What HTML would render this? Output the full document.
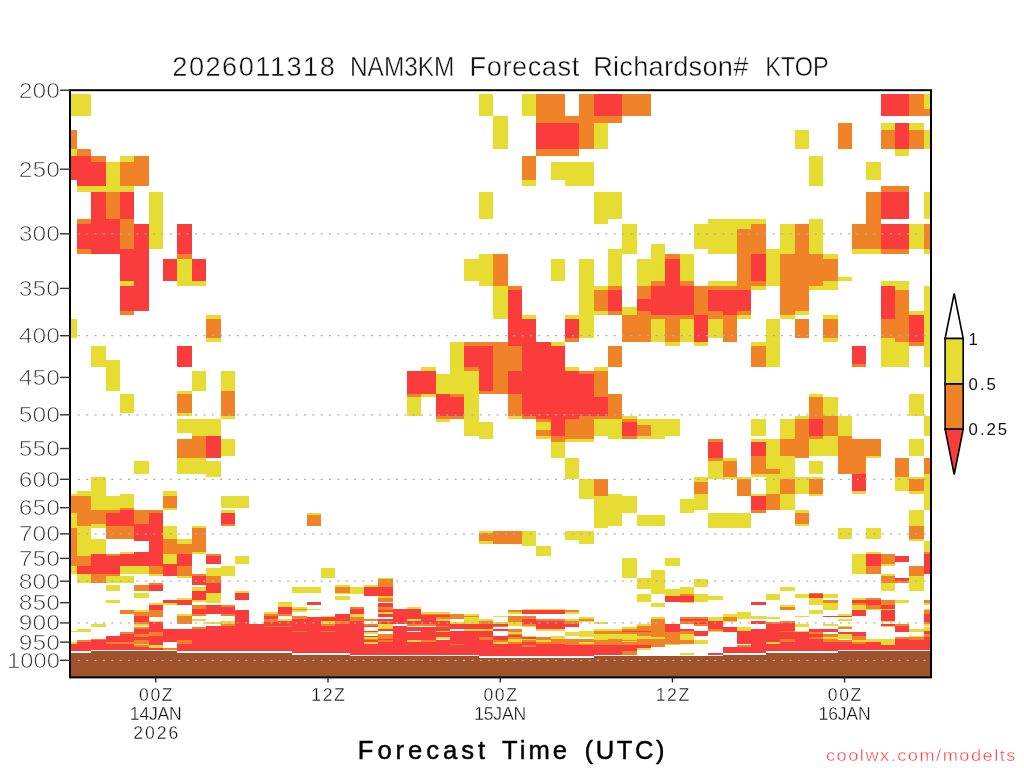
<!DOCTYPE html><html><head><meta charset="utf-8"><title>NAM3KM Forecast Richardson# KTOP</title>
<style>html,body{margin:0;padding:0;background:#fff;}svg{display:block}text{font-family:"Liberation Sans",sans-serif;}</style></head><body>
<svg width="1024" height="768" viewBox="0 0 1024 768">
<rect width="1024" height="768" fill="#fff"/>
<g shape-rendering="crispEdges">
<rect x="70" y="94" width="7" height="22" fill="#e6dc32"/>
<rect x="70" y="130" width="7" height="19" fill="#f08228"/>
<rect x="70" y="149" width="7" height="7" fill="#e6dc32"/>
<rect x="70" y="156" width="7" height="24" fill="#fa3c3c"/>
<rect x="77" y="94" width="14" height="22" fill="#e6dc32"/>
<rect x="77" y="149" width="14" height="7" fill="#f08228"/>
<rect x="77" y="156" width="14" height="30" fill="#fa3c3c"/>
<rect x="77" y="186" width="14" height="6" fill="#e6dc32"/>
<rect x="77" y="219" width="14" height="5" fill="#f08228"/>
<rect x="77" y="224" width="14" height="25" fill="#fa3c3c"/>
<rect x="77" y="249" width="14" height="5" fill="#f08228"/>
<rect x="91" y="156" width="15" height="6" fill="#f08228"/>
<rect x="91" y="162" width="15" height="24" fill="#fa3c3c"/>
<rect x="91" y="186" width="15" height="6" fill="#e6dc32"/>
<rect x="91" y="192" width="15" height="62" fill="#fa3c3c"/>
<rect x="106" y="162" width="14" height="30" fill="#e6dc32"/>
<rect x="106" y="192" width="14" height="27" fill="#f08228"/>
<rect x="106" y="219" width="14" height="35" fill="#fa3c3c"/>
<rect x="120" y="156" width="14" height="6" fill="#e6dc32"/>
<rect x="120" y="162" width="14" height="24" fill="#f08228"/>
<rect x="120" y="186" width="14" height="6" fill="#e6dc32"/>
<rect x="120" y="192" width="14" height="27" fill="#fa3c3c"/>
<rect x="120" y="219" width="14" height="30" fill="#f08228"/>
<rect x="120" y="249" width="14" height="11" fill="#fa3c3c"/>
<rect x="134" y="156" width="15" height="30" fill="#f08228"/>
<rect x="134" y="224" width="15" height="36" fill="#fa3c3c"/>
<rect x="149" y="192" width="14" height="57" fill="#e6dc32"/>
<rect x="163" y="259" width="14" height="1" fill="#fa3c3c"/>
<rect x="177" y="224" width="15" height="30" fill="#fa3c3c"/>
<rect x="177" y="254" width="15" height="5" fill="#f08228"/>
<rect x="177" y="259" width="15" height="1" fill="#e6dc32"/>
<rect x="192" y="259" width="14" height="1" fill="#fa3c3c"/>
<rect x="120" y="260" width="14" height="21" fill="#fa3c3c"/>
<rect x="120" y="281" width="14" height="5" fill="#e6dc32"/>
<rect x="120" y="286" width="14" height="25" fill="#fa3c3c"/>
<rect x="120" y="311" width="14" height="4" fill="#f08228"/>
<rect x="134" y="260" width="15" height="51" fill="#fa3c3c"/>
<rect x="163" y="260" width="14" height="21" fill="#fa3c3c"/>
<rect x="177" y="260" width="15" height="26" fill="#e6dc32"/>
<rect x="192" y="260" width="14" height="21" fill="#fa3c3c"/>
<rect x="192" y="281" width="14" height="5" fill="#e6dc32"/>
<rect x="206" y="315" width="15" height="4" fill="#e6dc32"/>
<rect x="206" y="319" width="15" height="19" fill="#f08228"/>
<rect x="206" y="338" width="15" height="4" fill="#e6dc32"/>
<rect x="70" y="319" width="7" height="19" fill="#e6dc32"/>
<rect x="91" y="346" width="15" height="21" fill="#e6dc32"/>
<rect x="106" y="360" width="14" height="31" fill="#e6dc32"/>
<rect x="120" y="394" width="14" height="19" fill="#e6dc32"/>
<rect x="177" y="346" width="15" height="21" fill="#fa3c3c"/>
<rect x="177" y="391" width="15" height="3" fill="#e6dc32"/>
<rect x="177" y="394" width="15" height="19" fill="#f08228"/>
<rect x="177" y="413" width="15" height="3" fill="#e6dc32"/>
<rect x="177" y="419" width="15" height="13" fill="#e6dc32"/>
<rect x="192" y="371" width="14" height="20" fill="#e6dc32"/>
<rect x="192" y="419" width="14" height="13" fill="#e6dc32"/>
<rect x="206" y="419" width="15" height="13" fill="#e6dc32"/>
<rect x="221" y="371" width="14" height="20" fill="#e6dc32"/>
<rect x="221" y="391" width="14" height="25" fill="#f08228"/>
<rect x="221" y="416" width="14" height="3" fill="#e6dc32"/>
<rect x="70" y="494" width="7" height="2" fill="#e6dc32"/>
<rect x="70" y="496" width="7" height="17" fill="#f08228"/>
<rect x="70" y="513" width="7" height="15" fill="#e6dc32"/>
<rect x="70" y="528" width="7" height="38" fill="#f08228"/>
<rect x="70" y="566" width="7" height="7" fill="#e6dc32"/>
<rect x="77" y="491" width="14" height="5" fill="#e6dc32"/>
<rect x="77" y="496" width="14" height="30" fill="#f08228"/>
<rect x="77" y="526" width="14" height="30" fill="#e6dc32"/>
<rect x="77" y="556" width="14" height="10" fill="#f08228"/>
<rect x="77" y="566" width="14" height="8" fill="#fa3c3c"/>
<rect x="77" y="574" width="14" height="9" fill="#e6dc32"/>
<rect x="91" y="477" width="15" height="33" fill="#e6dc32"/>
<rect x="91" y="510" width="15" height="14" fill="#f08228"/>
<rect x="91" y="524" width="15" height="4" fill="#e6dc32"/>
<rect x="91" y="539" width="15" height="15" fill="#e6dc32"/>
<rect x="91" y="554" width="15" height="20" fill="#fa3c3c"/>
<rect x="91" y="574" width="15" height="9" fill="#f08228"/>
<rect x="106" y="496" width="14" height="14" fill="#e6dc32"/>
<rect x="106" y="510" width="14" height="3" fill="#f08228"/>
<rect x="106" y="513" width="14" height="13" fill="#fa3c3c"/>
<rect x="106" y="526" width="14" height="13" fill="#f08228"/>
<rect x="106" y="554" width="14" height="2" fill="#f08228"/>
<rect x="106" y="556" width="14" height="18" fill="#fa3c3c"/>
<rect x="106" y="574" width="14" height="2" fill="#f08228"/>
<rect x="106" y="576" width="14" height="7" fill="#e6dc32"/>
<rect x="120" y="494" width="14" height="14" fill="#e6dc32"/>
<rect x="120" y="508" width="14" height="2" fill="#f08228"/>
<rect x="120" y="510" width="14" height="16" fill="#fa3c3c"/>
<rect x="120" y="526" width="14" height="13" fill="#f08228"/>
<rect x="120" y="552" width="14" height="2" fill="#e6dc32"/>
<rect x="120" y="554" width="14" height="12" fill="#fa3c3c"/>
<rect x="120" y="566" width="14" height="8" fill="#e6dc32"/>
<rect x="120" y="576" width="14" height="7" fill="#e6dc32"/>
<rect x="134" y="510" width="15" height="14" fill="#f08228"/>
<rect x="134" y="524" width="15" height="17" fill="#fa3c3c"/>
<rect x="134" y="552" width="15" height="14" fill="#fa3c3c"/>
<rect x="134" y="566" width="15" height="8" fill="#e6dc32"/>
<rect x="149" y="510" width="14" height="3" fill="#f08228"/>
<rect x="149" y="513" width="14" height="53" fill="#fa3c3c"/>
<rect x="149" y="566" width="14" height="8" fill="#f08228"/>
<rect x="149" y="574" width="14" height="2" fill="#e6dc32"/>
<rect x="163" y="491" width="14" height="5" fill="#e6dc32"/>
<rect x="163" y="496" width="14" height="12" fill="#f08228"/>
<rect x="163" y="508" width="14" height="2" fill="#e6dc32"/>
<rect x="163" y="526" width="14" height="13" fill="#e6dc32"/>
<rect x="163" y="539" width="14" height="15" fill="#f08228"/>
<rect x="163" y="554" width="14" height="10" fill="#e6dc32"/>
<rect x="163" y="564" width="14" height="12" fill="#fa3c3c"/>
<rect x="177" y="539" width="15" height="5" fill="#e6dc32"/>
<rect x="177" y="544" width="15" height="10" fill="#f08228"/>
<rect x="177" y="554" width="15" height="12" fill="#fa3c3c"/>
<rect x="177" y="566" width="15" height="10" fill="#f08228"/>
<rect x="177" y="576" width="15" height="2" fill="#e6dc32"/>
<rect x="192" y="526" width="14" height="2" fill="#e6dc32"/>
<rect x="192" y="528" width="14" height="24" fill="#f08228"/>
<rect x="192" y="552" width="14" height="2" fill="#e6dc32"/>
<rect x="192" y="574" width="14" height="2" fill="#f08228"/>
<rect x="192" y="576" width="14" height="7" fill="#fa3c3c"/>
<rect x="70" y="572" width="7" height="2" fill="#e6dc32"/>
<rect x="70" y="631" width="7" height="1" fill="#e6dc32"/>
<rect x="70" y="642" width="7" height="2" fill="#e6dc32"/>
<rect x="70" y="644" width="7" height="7" fill="#fa3c3c"/>
<rect x="70" y="653" width="7" height="24" fill="#a0522d"/>
<rect x="77" y="572" width="14" height="2" fill="#fa3c3c"/>
<rect x="77" y="574" width="14" height="9" fill="#e6dc32"/>
<rect x="77" y="629" width="14" height="3" fill="#e6dc32"/>
<rect x="77" y="640" width="14" height="2" fill="#f08228"/>
<rect x="77" y="642" width="14" height="9" fill="#fa3c3c"/>
<rect x="77" y="653" width="14" height="24" fill="#a0522d"/>
<rect x="91" y="572" width="15" height="2" fill="#fa3c3c"/>
<rect x="91" y="574" width="15" height="9" fill="#f08228"/>
<rect x="91" y="624" width="15" height="3" fill="#e6dc32"/>
<rect x="91" y="639" width="15" height="1" fill="#f08228"/>
<rect x="91" y="640" width="15" height="10" fill="#fa3c3c"/>
<rect x="91" y="651" width="15" height="26" fill="#a0522d"/>
<rect x="106" y="572" width="14" height="2" fill="#fa3c3c"/>
<rect x="106" y="574" width="14" height="2" fill="#f08228"/>
<rect x="106" y="576" width="14" height="7" fill="#e6dc32"/>
<rect x="106" y="585" width="14" height="6" fill="#e6dc32"/>
<rect x="106" y="600" width="14" height="3" fill="#e6dc32"/>
<rect x="106" y="636" width="14" height="14" fill="#fa3c3c"/>
<rect x="106" y="642" width="14" height="2" fill="#f08228"/>
<rect x="106" y="651" width="14" height="26" fill="#a0522d"/>
<rect x="120" y="572" width="14" height="2" fill="#e6dc32"/>
<rect x="120" y="576" width="14" height="7" fill="#e6dc32"/>
<rect x="120" y="610" width="14" height="4" fill="#f08228"/>
<rect x="120" y="632" width="14" height="2" fill="#f08228"/>
<rect x="120" y="634" width="14" height="16" fill="#fa3c3c"/>
<rect x="120" y="642" width="14" height="2" fill="#f08228"/>
<rect x="120" y="651" width="14" height="26" fill="#a0522d"/>
<rect x="134" y="572" width="15" height="2" fill="#e6dc32"/>
<rect x="134" y="585" width="15" height="6" fill="#f08228"/>
<rect x="134" y="593" width="15" height="5" fill="#e6dc32"/>
<rect x="134" y="610" width="15" height="2" fill="#e6dc32"/>
<rect x="134" y="612" width="15" height="4" fill="#f08228"/>
<rect x="134" y="616" width="15" height="6" fill="#fa3c3c"/>
<rect x="134" y="622" width="15" height="2" fill="#f08228"/>
<rect x="134" y="624" width="15" height="2" fill="#e6dc32"/>
<rect x="134" y="627" width="15" height="2" fill="#f08228"/>
<rect x="134" y="629" width="15" height="5" fill="#fa3c3c"/>
<rect x="134" y="634" width="15" height="3" fill="#f08228"/>
<rect x="134" y="637" width="15" height="3" fill="#fa3c3c"/>
<rect x="134" y="640" width="15" height="4" fill="#f08228"/>
<rect x="134" y="644" width="15" height="1" fill="#e6dc32"/>
<rect x="134" y="645" width="15" height="2" fill="#f08228"/>
<rect x="134" y="647" width="15" height="3" fill="#fa3c3c"/>
<rect x="134" y="651" width="15" height="26" fill="#a0522d"/>
<rect x="149" y="572" width="14" height="2" fill="#f08228"/>
<rect x="149" y="574" width="14" height="2" fill="#e6dc32"/>
<rect x="149" y="583" width="14" height="2" fill="#f08228"/>
<rect x="149" y="585" width="14" height="6" fill="#fa3c3c"/>
<rect x="149" y="603" width="14" height="2" fill="#e6dc32"/>
<rect x="149" y="605" width="14" height="5" fill="#fa3c3c"/>
<rect x="149" y="610" width="14" height="7" fill="#f08228"/>
<rect x="149" y="621" width="14" height="1" fill="#e6dc32"/>
<rect x="149" y="622" width="14" height="10" fill="#fa3c3c"/>
<rect x="149" y="632" width="14" height="4" fill="#f08228"/>
<rect x="149" y="636" width="14" height="9" fill="#fa3c3c"/>
<rect x="149" y="645" width="14" height="3" fill="#e6dc32"/>
<rect x="149" y="648" width="14" height="2" fill="#fa3c3c"/>
<rect x="149" y="651" width="14" height="26" fill="#a0522d"/>
<rect x="163" y="572" width="14" height="4" fill="#fa3c3c"/>
<rect x="163" y="600" width="14" height="3" fill="#fa3c3c"/>
<rect x="163" y="603" width="14" height="2" fill="#e6dc32"/>
<rect x="163" y="629" width="14" height="13" fill="#fa3c3c"/>
<rect x="163" y="648" width="14" height="2" fill="#f08228"/>
<rect x="163" y="651" width="14" height="26" fill="#a0522d"/>
<rect x="177" y="572" width="15" height="4" fill="#f08228"/>
<rect x="177" y="576" width="15" height="2" fill="#e6dc32"/>
<rect x="177" y="598" width="15" height="2" fill="#e6dc32"/>
<rect x="177" y="600" width="15" height="5" fill="#fa3c3c"/>
<rect x="177" y="614" width="15" height="2" fill="#e6dc32"/>
<rect x="177" y="616" width="15" height="8" fill="#f08228"/>
<rect x="177" y="629" width="15" height="11" fill="#fa3c3c"/>
<rect x="177" y="640" width="15" height="4" fill="#f08228"/>
<rect x="177" y="644" width="15" height="7" fill="#fa3c3c"/>
<rect x="177" y="653" width="15" height="24" fill="#a0522d"/>
<rect x="192" y="574" width="14" height="2" fill="#f08228"/>
<rect x="192" y="576" width="14" height="9" fill="#fa3c3c"/>
<rect x="192" y="587" width="14" height="4" fill="#e6dc32"/>
<rect x="192" y="591" width="14" height="9" fill="#fa3c3c"/>
<rect x="192" y="600" width="14" height="2" fill="#e6dc32"/>
<rect x="192" y="605" width="14" height="4" fill="#f08228"/>
<rect x="192" y="609" width="14" height="5" fill="#fa3c3c"/>
<rect x="192" y="614" width="14" height="2" fill="#f08228"/>
<rect x="192" y="619" width="14" height="2" fill="#e6dc32"/>
<rect x="192" y="627" width="14" height="2" fill="#f08228"/>
<rect x="192" y="629" width="14" height="22" fill="#fa3c3c"/>
<rect x="192" y="653" width="14" height="24" fill="#a0522d"/>
<rect x="206" y="572" width="15" height="4" fill="#e6dc32"/>
<rect x="206" y="576" width="15" height="7" fill="#f08228"/>
<rect x="206" y="583" width="15" height="10" fill="#fa3c3c"/>
<rect x="206" y="593" width="15" height="10" fill="#e6dc32"/>
<rect x="206" y="605" width="15" height="9" fill="#fa3c3c"/>
<rect x="206" y="622" width="15" height="2" fill="#e6dc32"/>
<rect x="206" y="626" width="15" height="25" fill="#fa3c3c"/>
<rect x="206" y="653" width="15" height="24" fill="#a0522d"/>
<rect x="221" y="572" width="14" height="4" fill="#e6dc32"/>
<rect x="221" y="605" width="14" height="2" fill="#f08228"/>
<rect x="221" y="607" width="14" height="7" fill="#fa3c3c"/>
<rect x="221" y="614" width="14" height="2" fill="#f08228"/>
<rect x="221" y="621" width="14" height="3" fill="#e6dc32"/>
<rect x="221" y="624" width="14" height="2" fill="#f08228"/>
<rect x="221" y="626" width="14" height="25" fill="#fa3c3c"/>
<rect x="221" y="653" width="14" height="24" fill="#a0522d"/>
<rect x="235" y="591" width="14" height="2" fill="#e6dc32"/>
<rect x="235" y="593" width="14" height="7" fill="#fa3c3c"/>
<rect x="235" y="610" width="14" height="41" fill="#fa3c3c"/>
<rect x="235" y="653" width="14" height="24" fill="#a0522d"/>
<rect x="249" y="624" width="15" height="27" fill="#fa3c3c"/>
<rect x="249" y="653" width="15" height="24" fill="#a0522d"/>
<rect x="264" y="612" width="14" height="2" fill="#e6dc32"/>
<rect x="264" y="614" width="14" height="2" fill="#f08228"/>
<rect x="264" y="616" width="14" height="3" fill="#fa3c3c"/>
<rect x="264" y="619" width="14" height="3" fill="#f08228"/>
<rect x="264" y="622" width="14" height="29" fill="#fa3c3c"/>
<rect x="264" y="626" width="14" height="1" fill="#f08228"/>
<rect x="264" y="653" width="14" height="24" fill="#a0522d"/>
<rect x="278" y="602" width="14" height="5" fill="#e6dc32"/>
<rect x="278" y="607" width="14" height="7" fill="#fa3c3c"/>
<rect x="278" y="614" width="14" height="2" fill="#f08228"/>
<rect x="278" y="619" width="14" height="2" fill="#e6dc32"/>
<rect x="278" y="621" width="14" height="30" fill="#fa3c3c"/>
<rect x="278" y="626" width="14" height="1" fill="#f08228"/>
<rect x="278" y="653" width="14" height="24" fill="#a0522d"/>
<rect x="292" y="587" width="15" height="6" fill="#e6dc32"/>
<rect x="292" y="607" width="15" height="2" fill="#e6dc32"/>
<rect x="292" y="609" width="15" height="1" fill="#f08228"/>
<rect x="292" y="610" width="15" height="2" fill="#e6dc32"/>
<rect x="292" y="616" width="15" height="3" fill="#f08228"/>
<rect x="292" y="619" width="15" height="34" fill="#fa3c3c"/>
<rect x="292" y="631" width="15" height="1" fill="#f08228"/>
<rect x="292" y="655" width="15" height="22" fill="#a0522d"/>
<rect x="307" y="587" width="14" height="6" fill="#e6dc32"/>
<rect x="307" y="602" width="14" height="3" fill="#fa3c3c"/>
<rect x="307" y="609" width="14" height="1" fill="#e6dc32"/>
<rect x="307" y="617" width="14" height="36" fill="#fa3c3c"/>
<rect x="307" y="655" width="14" height="22" fill="#a0522d"/>
<rect x="321" y="572" width="14" height="6" fill="#e6dc32"/>
<rect x="321" y="616" width="14" height="1" fill="#e6dc32"/>
<rect x="321" y="617" width="14" height="4" fill="#fa3c3c"/>
<rect x="321" y="621" width="14" height="3" fill="#e6dc32"/>
<rect x="321" y="624" width="14" height="2" fill="#f08228"/>
<rect x="321" y="626" width="14" height="27" fill="#fa3c3c"/>
<rect x="321" y="631" width="14" height="1" fill="#f08228"/>
<rect x="321" y="655" width="14" height="22" fill="#a0522d"/>
<rect x="335" y="585" width="15" height="2" fill="#e6dc32"/>
<rect x="335" y="587" width="15" height="6" fill="#f08228"/>
<rect x="335" y="593" width="15" height="1" fill="#e6dc32"/>
<rect x="335" y="596" width="15" height="4" fill="#e6dc32"/>
<rect x="335" y="614" width="15" height="7" fill="#fa3c3c"/>
<rect x="335" y="621" width="15" height="3" fill="#f08228"/>
<rect x="335" y="624" width="15" height="29" fill="#fa3c3c"/>
<rect x="335" y="655" width="15" height="22" fill="#a0522d"/>
<rect x="350" y="587" width="14" height="7" fill="#e6dc32"/>
<rect x="350" y="607" width="14" height="2" fill="#f08228"/>
<rect x="350" y="609" width="14" height="5" fill="#fa3c3c"/>
<rect x="350" y="614" width="14" height="3" fill="#e6dc32"/>
<rect x="350" y="617" width="14" height="4" fill="#f08228"/>
<rect x="350" y="621" width="14" height="34" fill="#fa3c3c"/>
<rect x="350" y="656" width="14" height="21" fill="#a0522d"/>
<rect x="364" y="585" width="14" height="2" fill="#e6dc32"/>
<rect x="364" y="587" width="14" height="9" fill="#fa3c3c"/>
<rect x="364" y="619" width="14" height="2" fill="#f08228"/>
<rect x="364" y="624" width="14" height="2" fill="#f08228"/>
<rect x="364" y="626" width="14" height="1" fill="#fa3c3c"/>
<rect x="364" y="631" width="14" height="1" fill="#fa3c3c"/>
<rect x="364" y="632" width="14" height="2" fill="#e6dc32"/>
<rect x="364" y="636" width="14" height="1" fill="#fa3c3c"/>
<rect x="364" y="637" width="14" height="2" fill="#e6dc32"/>
<rect x="364" y="639" width="14" height="1" fill="#f08228"/>
<rect x="364" y="640" width="14" height="2" fill="#fa3c3c"/>
<rect x="364" y="642" width="14" height="2" fill="#e6dc32"/>
<rect x="364" y="644" width="14" height="11" fill="#fa3c3c"/>
<rect x="364" y="656" width="14" height="21" fill="#a0522d"/>
<rect x="378" y="578" width="15" height="1" fill="#e6dc32"/>
<rect x="378" y="579" width="15" height="8" fill="#f08228"/>
<rect x="378" y="587" width="15" height="9" fill="#fa3c3c"/>
<rect x="378" y="596" width="15" height="2" fill="#e6dc32"/>
<rect x="378" y="598" width="15" height="4" fill="#f08228"/>
<rect x="378" y="603" width="15" height="4" fill="#fa3c3c"/>
<rect x="378" y="607" width="15" height="3" fill="#f08228"/>
<rect x="378" y="610" width="15" height="2" fill="#fa3c3c"/>
<rect x="378" y="612" width="15" height="2" fill="#e6dc32"/>
<rect x="378" y="614" width="15" height="3" fill="#fa3c3c"/>
<rect x="378" y="619" width="15" height="2" fill="#fa3c3c"/>
<rect x="378" y="621" width="15" height="1" fill="#f08228"/>
<rect x="378" y="622" width="15" height="2" fill="#fa3c3c"/>
<rect x="378" y="624" width="15" height="5" fill="#e6dc32"/>
<rect x="378" y="629" width="15" height="2" fill="#fa3c3c"/>
<rect x="378" y="634" width="15" height="5" fill="#f08228"/>
<rect x="378" y="639" width="15" height="1" fill="#fa3c3c"/>
<rect x="378" y="640" width="15" height="2" fill="#f08228"/>
<rect x="378" y="642" width="15" height="13" fill="#fa3c3c"/>
<rect x="378" y="656" width="15" height="21" fill="#a0522d"/>
<rect x="393" y="609" width="14" height="15" fill="#fa3c3c"/>
<rect x="393" y="626" width="14" height="29" fill="#fa3c3c"/>
<rect x="393" y="656" width="14" height="21" fill="#a0522d"/>
<rect x="407" y="607" width="14" height="2" fill="#e6dc32"/>
<rect x="407" y="609" width="14" height="10" fill="#fa3c3c"/>
<rect x="407" y="619" width="14" height="2" fill="#e6dc32"/>
<rect x="407" y="621" width="14" height="3" fill="#fa3c3c"/>
<rect x="407" y="624" width="14" height="2" fill="#f08228"/>
<rect x="407" y="627" width="14" height="4" fill="#fa3c3c"/>
<rect x="407" y="632" width="14" height="8" fill="#fa3c3c"/>
<rect x="407" y="640" width="14" height="2" fill="#e6dc32"/>
<rect x="407" y="642" width="14" height="13" fill="#fa3c3c"/>
<rect x="407" y="656" width="14" height="21" fill="#a0522d"/>
<rect x="421" y="612" width="15" height="2" fill="#e6dc32"/>
<rect x="421" y="614" width="15" height="1" fill="#f08228"/>
<rect x="421" y="615" width="15" height="9" fill="#fa3c3c"/>
<rect x="421" y="624" width="15" height="2" fill="#f08228"/>
<rect x="421" y="627" width="15" height="13" fill="#fa3c3c"/>
<rect x="421" y="640" width="15" height="2" fill="#f08228"/>
<rect x="421" y="642" width="15" height="13" fill="#fa3c3c"/>
<rect x="421" y="656" width="15" height="21" fill="#a0522d"/>
<rect x="436" y="612" width="14" height="2" fill="#e6dc32"/>
<rect x="436" y="614" width="14" height="1" fill="#f08228"/>
<rect x="436" y="615" width="14" height="2" fill="#fa3c3c"/>
<rect x="436" y="617" width="14" height="2" fill="#f08228"/>
<rect x="436" y="619" width="14" height="2" fill="#e6dc32"/>
<rect x="436" y="621" width="14" height="5" fill="#fa3c3c"/>
<rect x="436" y="626" width="14" height="1" fill="#f08228"/>
<rect x="436" y="627" width="14" height="4" fill="#fa3c3c"/>
<rect x="436" y="631" width="14" height="1" fill="#e6dc32"/>
<rect x="436" y="632" width="14" height="5" fill="#fa3c3c"/>
<rect x="436" y="637" width="14" height="2" fill="#e6dc32"/>
<rect x="436" y="640" width="14" height="15" fill="#fa3c3c"/>
<rect x="436" y="656" width="14" height="21" fill="#a0522d"/>
<rect x="450" y="614" width="14" height="5" fill="#f08228"/>
<rect x="450" y="622" width="14" height="2" fill="#e6dc32"/>
<rect x="450" y="624" width="14" height="5" fill="#fa3c3c"/>
<rect x="450" y="631" width="14" height="13" fill="#fa3c3c"/>
<rect x="450" y="644" width="14" height="1" fill="#f08228"/>
<rect x="450" y="645" width="14" height="10" fill="#fa3c3c"/>
<rect x="450" y="656" width="14" height="21" fill="#a0522d"/>
<rect x="464" y="614" width="15" height="2" fill="#e6dc32"/>
<rect x="464" y="616" width="15" height="1" fill="#f08228"/>
<rect x="464" y="617" width="15" height="7" fill="#e6dc32"/>
<rect x="464" y="624" width="15" height="5" fill="#fa3c3c"/>
<rect x="464" y="629" width="15" height="2" fill="#e6dc32"/>
<rect x="464" y="631" width="15" height="24" fill="#fa3c3c"/>
<rect x="464" y="656" width="15" height="21" fill="#a0522d"/>
<rect x="479" y="619" width="14" height="2" fill="#e6dc32"/>
<rect x="479" y="621" width="14" height="3" fill="#f08228"/>
<rect x="479" y="624" width="14" height="5" fill="#fa3c3c"/>
<rect x="479" y="629" width="14" height="2" fill="#e6dc32"/>
<rect x="479" y="631" width="14" height="6" fill="#fa3c3c"/>
<rect x="479" y="637" width="14" height="3" fill="#f08228"/>
<rect x="479" y="640" width="14" height="16" fill="#fa3c3c"/>
<rect x="479" y="658" width="14" height="19" fill="#a0522d"/>
<rect x="493" y="616" width="15" height="1" fill="#e6dc32"/>
<rect x="493" y="622" width="15" height="2" fill="#e6dc32"/>
<rect x="493" y="624" width="15" height="2" fill="#fa3c3c"/>
<rect x="493" y="626" width="15" height="1" fill="#f08228"/>
<rect x="493" y="629" width="15" height="2" fill="#fa3c3c"/>
<rect x="493" y="636" width="15" height="4" fill="#fa3c3c"/>
<rect x="493" y="640" width="15" height="2" fill="#f08228"/>
<rect x="493" y="642" width="15" height="2" fill="#e6dc32"/>
<rect x="493" y="644" width="15" height="12" fill="#fa3c3c"/>
<rect x="493" y="658" width="15" height="19" fill="#a0522d"/>
<rect x="508" y="610" width="14" height="2" fill="#f08228"/>
<rect x="508" y="612" width="14" height="2" fill="#e6dc32"/>
<rect x="508" y="616" width="14" height="6" fill="#f08228"/>
<rect x="508" y="622" width="14" height="4" fill="#e6dc32"/>
<rect x="508" y="629" width="14" height="3" fill="#f08228"/>
<rect x="508" y="632" width="14" height="2" fill="#e6dc32"/>
<rect x="508" y="634" width="14" height="1" fill="#f08228"/>
<rect x="508" y="635" width="14" height="2" fill="#fa3c3c"/>
<rect x="508" y="637" width="14" height="2" fill="#f08228"/>
<rect x="508" y="639" width="14" height="3" fill="#e6dc32"/>
<rect x="508" y="642" width="14" height="2" fill="#f08228"/>
<rect x="508" y="644" width="14" height="12" fill="#fa3c3c"/>
<rect x="508" y="658" width="14" height="19" fill="#a0522d"/>
<rect x="522" y="609" width="14" height="1" fill="#e6dc32"/>
<rect x="522" y="610" width="14" height="4" fill="#fa3c3c"/>
<rect x="522" y="616" width="14" height="3" fill="#f08228"/>
<rect x="522" y="619" width="14" height="5" fill="#fa3c3c"/>
<rect x="522" y="624" width="14" height="2" fill="#f08228"/>
<rect x="522" y="626" width="14" height="1" fill="#e6dc32"/>
<rect x="522" y="636" width="14" height="1" fill="#e6dc32"/>
<rect x="522" y="637" width="14" height="2" fill="#fa3c3c"/>
<rect x="522" y="639" width="14" height="1" fill="#e6dc32"/>
<rect x="522" y="640" width="14" height="2" fill="#f08228"/>
<rect x="522" y="642" width="14" height="3" fill="#fa3c3c"/>
<rect x="522" y="645" width="14" height="2" fill="#f08228"/>
<rect x="522" y="647" width="14" height="9" fill="#fa3c3c"/>
<rect x="522" y="658" width="14" height="19" fill="#a0522d"/>
<rect x="536" y="609" width="15" height="1" fill="#e6dc32"/>
<rect x="536" y="610" width="15" height="4" fill="#fa3c3c"/>
<rect x="536" y="619" width="15" height="2" fill="#f08228"/>
<rect x="536" y="621" width="15" height="8" fill="#fa3c3c"/>
<rect x="536" y="629" width="15" height="2" fill="#e6dc32"/>
<rect x="536" y="637" width="15" height="3" fill="#f08228"/>
<rect x="536" y="640" width="15" height="2" fill="#e6dc32"/>
<rect x="536" y="642" width="15" height="2" fill="#f08228"/>
<rect x="536" y="644" width="15" height="12" fill="#fa3c3c"/>
<rect x="536" y="658" width="15" height="19" fill="#a0522d"/>
<rect x="551" y="609" width="14" height="1" fill="#e6dc32"/>
<rect x="551" y="610" width="14" height="4" fill="#fa3c3c"/>
<rect x="551" y="619" width="14" height="2" fill="#f08228"/>
<rect x="551" y="621" width="14" height="8" fill="#fa3c3c"/>
<rect x="551" y="629" width="14" height="2" fill="#e6dc32"/>
<rect x="551" y="636" width="14" height="3" fill="#e6dc32"/>
<rect x="551" y="639" width="14" height="5" fill="#f08228"/>
<rect x="551" y="644" width="14" height="12" fill="#fa3c3c"/>
<rect x="551" y="658" width="14" height="19" fill="#a0522d"/>
<rect x="565" y="610" width="14" height="2" fill="#f08228"/>
<rect x="565" y="612" width="14" height="2" fill="#e6dc32"/>
<rect x="565" y="619" width="14" height="2" fill="#e6dc32"/>
<rect x="565" y="621" width="14" height="3" fill="#f08228"/>
<rect x="565" y="624" width="14" height="3" fill="#fa3c3c"/>
<rect x="565" y="632" width="14" height="4" fill="#e6dc32"/>
<rect x="565" y="639" width="14" height="6" fill="#f08228"/>
<rect x="565" y="645" width="14" height="11" fill="#fa3c3c"/>
<rect x="565" y="658" width="14" height="19" fill="#a0522d"/>
<rect x="579" y="617" width="15" height="2" fill="#e6dc32"/>
<rect x="579" y="619" width="15" height="2" fill="#f08228"/>
<rect x="579" y="621" width="15" height="1" fill="#e6dc32"/>
<rect x="579" y="631" width="15" height="6" fill="#e6dc32"/>
<rect x="579" y="639" width="15" height="3" fill="#f08228"/>
<rect x="579" y="642" width="15" height="2" fill="#e6dc32"/>
<rect x="579" y="644" width="15" height="1" fill="#f08228"/>
<rect x="579" y="645" width="15" height="11" fill="#fa3c3c"/>
<rect x="579" y="658" width="15" height="19" fill="#a0522d"/>
<rect x="594" y="622" width="14" height="2" fill="#e6dc32"/>
<rect x="594" y="629" width="14" height="2" fill="#e6dc32"/>
<rect x="594" y="631" width="14" height="3" fill="#f08228"/>
<rect x="594" y="634" width="14" height="6" fill="#e6dc32"/>
<rect x="594" y="640" width="14" height="5" fill="#f08228"/>
<rect x="594" y="645" width="14" height="10" fill="#fa3c3c"/>
<rect x="594" y="656" width="14" height="21" fill="#a0522d"/>
<rect x="608" y="629" width="14" height="2" fill="#e6dc32"/>
<rect x="608" y="631" width="14" height="3" fill="#f08228"/>
<rect x="608" y="634" width="14" height="5" fill="#e6dc32"/>
<rect x="608" y="639" width="14" height="6" fill="#f08228"/>
<rect x="608" y="645" width="14" height="10" fill="#fa3c3c"/>
<rect x="608" y="656" width="14" height="21" fill="#a0522d"/>
<rect x="622" y="572" width="15" height="6" fill="#e6dc32"/>
<rect x="622" y="627" width="15" height="2" fill="#e6dc32"/>
<rect x="622" y="629" width="15" height="2" fill="#f08228"/>
<rect x="622" y="631" width="15" height="1" fill="#fa3c3c"/>
<rect x="622" y="632" width="15" height="2" fill="#f08228"/>
<rect x="622" y="634" width="15" height="6" fill="#e6dc32"/>
<rect x="622" y="640" width="15" height="1" fill="#f08228"/>
<rect x="622" y="641" width="15" height="1" fill="#e6dc32"/>
<rect x="622" y="642" width="15" height="3" fill="#f08228"/>
<rect x="622" y="645" width="15" height="6" fill="#fa3c3c"/>
<rect x="622" y="651" width="15" height="4" fill="#f08228"/>
<rect x="622" y="656" width="15" height="21" fill="#a0522d"/>
<rect x="637" y="578" width="14" height="11" fill="#e6dc32"/>
<rect x="637" y="594" width="14" height="8" fill="#e6dc32"/>
<rect x="637" y="624" width="14" height="2" fill="#e6dc32"/>
<rect x="637" y="626" width="14" height="5" fill="#f08228"/>
<rect x="637" y="631" width="14" height="1" fill="#fa3c3c"/>
<rect x="637" y="632" width="14" height="4" fill="#f08228"/>
<rect x="637" y="636" width="14" height="3" fill="#e6dc32"/>
<rect x="637" y="639" width="14" height="6" fill="#f08228"/>
<rect x="637" y="645" width="14" height="3" fill="#fa3c3c"/>
<rect x="637" y="648" width="14" height="2" fill="#e6dc32"/>
<rect x="637" y="656" width="14" height="21" fill="#a0522d"/>
<rect x="651" y="572" width="14" height="22" fill="#e6dc32"/>
<rect x="651" y="603" width="14" height="4" fill="#e6dc32"/>
<rect x="651" y="617" width="14" height="2" fill="#e6dc32"/>
<rect x="651" y="619" width="14" height="18" fill="#f08228"/>
<rect x="651" y="637" width="14" height="2" fill="#e6dc32"/>
<rect x="651" y="639" width="14" height="8" fill="#f08228"/>
<rect x="651" y="656" width="14" height="21" fill="#a0522d"/>
<rect x="665" y="589" width="15" height="7" fill="#e6dc32"/>
<rect x="665" y="596" width="15" height="6" fill="#fa3c3c"/>
<rect x="665" y="624" width="15" height="8" fill="#fa3c3c"/>
<rect x="665" y="632" width="15" height="12" fill="#f08228"/>
<rect x="665" y="644" width="15" height="1" fill="#e6dc32"/>
<rect x="665" y="656" width="15" height="21" fill="#a0522d"/>
<rect x="680" y="587" width="14" height="7" fill="#e6dc32"/>
<rect x="680" y="594" width="14" height="2" fill="#f08228"/>
<rect x="680" y="596" width="14" height="6" fill="#fa3c3c"/>
<rect x="680" y="602" width="14" height="1" fill="#e6dc32"/>
<rect x="680" y="617" width="14" height="2" fill="#f08228"/>
<rect x="680" y="619" width="14" height="2" fill="#fa3c3c"/>
<rect x="680" y="621" width="14" height="3" fill="#f08228"/>
<rect x="680" y="629" width="14" height="2" fill="#fa3c3c"/>
<rect x="680" y="631" width="14" height="3" fill="#f08228"/>
<rect x="680" y="634" width="14" height="6" fill="#e6dc32"/>
<rect x="680" y="640" width="14" height="4" fill="#f08228"/>
<rect x="680" y="653" width="14" height="2" fill="#e6dc32"/>
<rect x="680" y="656" width="14" height="21" fill="#a0522d"/>
<rect x="694" y="579" width="14" height="8" fill="#e6dc32"/>
<rect x="694" y="594" width="14" height="8" fill="#e6dc32"/>
<rect x="694" y="617" width="14" height="2" fill="#f08228"/>
<rect x="694" y="619" width="14" height="2" fill="#fa3c3c"/>
<rect x="694" y="621" width="14" height="1" fill="#f08228"/>
<rect x="694" y="622" width="14" height="2" fill="#fa3c3c"/>
<rect x="694" y="624" width="14" height="2" fill="#f08228"/>
<rect x="694" y="631" width="14" height="5" fill="#fa3c3c"/>
<rect x="694" y="640" width="14" height="4" fill="#e6dc32"/>
<rect x="694" y="656" width="14" height="21" fill="#a0522d"/>
<rect x="708" y="596" width="15" height="4" fill="#e6dc32"/>
<rect x="708" y="617" width="15" height="4" fill="#e6dc32"/>
<rect x="708" y="621" width="15" height="8" fill="#fa3c3c"/>
<rect x="708" y="629" width="15" height="2" fill="#f08228"/>
<rect x="708" y="631" width="15" height="1" fill="#e6dc32"/>
<rect x="708" y="653" width="15" height="2" fill="#fa3c3c"/>
<rect x="708" y="656" width="15" height="21" fill="#a0522d"/>
<rect x="723" y="614" width="14" height="3" fill="#e6dc32"/>
<rect x="723" y="617" width="14" height="4" fill="#f08228"/>
<rect x="723" y="621" width="14" height="1" fill="#e6dc32"/>
<rect x="723" y="627" width="14" height="5" fill="#fa3c3c"/>
<rect x="723" y="647" width="14" height="6" fill="#fa3c3c"/>
<rect x="723" y="655" width="14" height="22" fill="#a0522d"/>
<rect x="737" y="612" width="14" height="7" fill="#e6dc32"/>
<rect x="737" y="627" width="14" height="4" fill="#e6dc32"/>
<rect x="737" y="631" width="14" height="13" fill="#fa3c3c"/>
<rect x="737" y="645" width="14" height="2" fill="#f08228"/>
<rect x="737" y="647" width="14" height="6" fill="#fa3c3c"/>
<rect x="737" y="655" width="14" height="22" fill="#a0522d"/>
<rect x="751" y="602" width="15" height="3" fill="#fa3c3c"/>
<rect x="751" y="616" width="15" height="3" fill="#e6dc32"/>
<rect x="751" y="621" width="15" height="3" fill="#fa3c3c"/>
<rect x="751" y="629" width="15" height="24" fill="#fa3c3c"/>
<rect x="751" y="655" width="15" height="22" fill="#a0522d"/>
<rect x="766" y="594" width="14" height="6" fill="#e6dc32"/>
<rect x="766" y="617" width="14" height="2" fill="#e6dc32"/>
<rect x="766" y="622" width="14" height="2" fill="#f08228"/>
<rect x="766" y="624" width="14" height="18" fill="#fa3c3c"/>
<rect x="766" y="642" width="14" height="2" fill="#e6dc32"/>
<rect x="766" y="644" width="14" height="7" fill="#fa3c3c"/>
<rect x="766" y="653" width="14" height="24" fill="#a0522d"/>
<rect x="780" y="587" width="15" height="4" fill="#e6dc32"/>
<rect x="780" y="605" width="15" height="2" fill="#e6dc32"/>
<rect x="780" y="607" width="15" height="3" fill="#f08228"/>
<rect x="780" y="621" width="15" height="2" fill="#f08228"/>
<rect x="780" y="623" width="15" height="8" fill="#fa3c3c"/>
<rect x="780" y="631" width="15" height="1" fill="#f08228"/>
<rect x="780" y="632" width="15" height="7" fill="#fa3c3c"/>
<rect x="780" y="639" width="15" height="3" fill="#f08228"/>
<rect x="780" y="642" width="15" height="9" fill="#fa3c3c"/>
<rect x="780" y="653" width="15" height="24" fill="#a0522d"/>
<rect x="795" y="594" width="14" height="4" fill="#e6dc32"/>
<rect x="795" y="616" width="14" height="1" fill="#e6dc32"/>
<rect x="795" y="624" width="14" height="3" fill="#e6dc32"/>
<rect x="795" y="631" width="14" height="1" fill="#e6dc32"/>
<rect x="795" y="632" width="14" height="19" fill="#fa3c3c"/>
<rect x="795" y="653" width="14" height="24" fill="#a0522d"/>
<rect x="809" y="593" width="14" height="1" fill="#f08228"/>
<rect x="809" y="594" width="14" height="4" fill="#fa3c3c"/>
<rect x="809" y="598" width="14" height="7" fill="#e6dc32"/>
<rect x="809" y="610" width="14" height="4" fill="#e6dc32"/>
<rect x="809" y="629" width="14" height="3" fill="#fa3c3c"/>
<rect x="809" y="632" width="14" height="2" fill="#f08228"/>
<rect x="809" y="634" width="14" height="3" fill="#fa3c3c"/>
<rect x="809" y="637" width="14" height="2" fill="#f08228"/>
<rect x="809" y="639" width="14" height="12" fill="#fa3c3c"/>
<rect x="809" y="653" width="14" height="24" fill="#a0522d"/>
<rect x="823" y="594" width="15" height="4" fill="#e6dc32"/>
<rect x="823" y="600" width="15" height="3" fill="#f08228"/>
<rect x="823" y="603" width="15" height="7" fill="#e6dc32"/>
<rect x="823" y="616" width="15" height="1" fill="#fa3c3c"/>
<rect x="823" y="624" width="15" height="2" fill="#e6dc32"/>
<rect x="823" y="629" width="15" height="3" fill="#fa3c3c"/>
<rect x="823" y="634" width="15" height="3" fill="#f08228"/>
<rect x="823" y="637" width="15" height="2" fill="#e6dc32"/>
<rect x="823" y="639" width="15" height="3" fill="#f08228"/>
<rect x="823" y="642" width="15" height="9" fill="#fa3c3c"/>
<rect x="823" y="653" width="15" height="24" fill="#a0522d"/>
<rect x="838" y="614" width="14" height="2" fill="#e6dc32"/>
<rect x="838" y="616" width="14" height="1" fill="#fa3c3c"/>
<rect x="838" y="619" width="14" height="2" fill="#e6dc32"/>
<rect x="838" y="626" width="14" height="1" fill="#e6dc32"/>
<rect x="838" y="627" width="14" height="2" fill="#f08228"/>
<rect x="838" y="632" width="14" height="2" fill="#fa3c3c"/>
<rect x="838" y="634" width="14" height="5" fill="#e6dc32"/>
<rect x="838" y="640" width="14" height="2" fill="#f08228"/>
<rect x="838" y="642" width="14" height="8" fill="#fa3c3c"/>
<rect x="838" y="651" width="14" height="26" fill="#a0522d"/>
<rect x="852" y="572" width="14" height="2" fill="#e6dc32"/>
<rect x="852" y="598" width="14" height="2" fill="#e6dc32"/>
<rect x="852" y="600" width="14" height="3" fill="#fa3c3c"/>
<rect x="852" y="603" width="14" height="2" fill="#f08228"/>
<rect x="852" y="605" width="14" height="5" fill="#e6dc32"/>
<rect x="852" y="610" width="14" height="6" fill="#fa3c3c"/>
<rect x="852" y="632" width="14" height="4" fill="#fa3c3c"/>
<rect x="852" y="636" width="14" height="4" fill="#f08228"/>
<rect x="852" y="640" width="14" height="2" fill="#e6dc32"/>
<rect x="852" y="642" width="14" height="2" fill="#f08228"/>
<rect x="852" y="644" width="14" height="6" fill="#fa3c3c"/>
<rect x="852" y="651" width="14" height="26" fill="#a0522d"/>
<rect x="866" y="572" width="15" height="2" fill="#f08228"/>
<rect x="866" y="598" width="15" height="2" fill="#f08228"/>
<rect x="866" y="600" width="15" height="5" fill="#fa3c3c"/>
<rect x="866" y="605" width="15" height="4" fill="#f08228"/>
<rect x="866" y="609" width="15" height="1" fill="#e6dc32"/>
<rect x="866" y="639" width="15" height="3" fill="#e6dc32"/>
<rect x="866" y="642" width="15" height="8" fill="#fa3c3c"/>
<rect x="866" y="651" width="15" height="26" fill="#a0522d"/>
<rect x="881" y="574" width="14" height="2" fill="#e6dc32"/>
<rect x="881" y="576" width="14" height="7" fill="#f08228"/>
<rect x="881" y="583" width="14" height="8" fill="#e6dc32"/>
<rect x="881" y="600" width="14" height="5" fill="#f08228"/>
<rect x="881" y="605" width="14" height="4" fill="#fa3c3c"/>
<rect x="881" y="609" width="14" height="1" fill="#e6dc32"/>
<rect x="881" y="610" width="14" height="11" fill="#fa3c3c"/>
<rect x="881" y="621" width="14" height="1" fill="#e6dc32"/>
<rect x="881" y="624" width="14" height="2" fill="#fa3c3c"/>
<rect x="881" y="626" width="14" height="1" fill="#e6dc32"/>
<rect x="881" y="639" width="14" height="6" fill="#e6dc32"/>
<rect x="881" y="645" width="14" height="5" fill="#fa3c3c"/>
<rect x="881" y="651" width="14" height="26" fill="#a0522d"/>
<rect x="895" y="578" width="14" height="3" fill="#fa3c3c"/>
<rect x="895" y="581" width="14" height="2" fill="#f08228"/>
<rect x="895" y="600" width="14" height="3" fill="#e6dc32"/>
<rect x="895" y="624" width="14" height="2" fill="#f08228"/>
<rect x="895" y="626" width="14" height="6" fill="#fa3c3c"/>
<rect x="895" y="637" width="14" height="2" fill="#f08228"/>
<rect x="895" y="639" width="14" height="11" fill="#fa3c3c"/>
<rect x="895" y="651" width="14" height="26" fill="#a0522d"/>
<rect x="909" y="572" width="15" height="4" fill="#f08228"/>
<rect x="909" y="576" width="15" height="15" fill="#e6dc32"/>
<rect x="909" y="629" width="15" height="3" fill="#e6dc32"/>
<rect x="909" y="636" width="15" height="1" fill="#e6dc32"/>
<rect x="909" y="637" width="15" height="3" fill="#f08228"/>
<rect x="909" y="640" width="15" height="10" fill="#fa3c3c"/>
<rect x="909" y="651" width="15" height="26" fill="#a0522d"/>
<rect x="924" y="572" width="7" height="2" fill="#fa3c3c"/>
<rect x="924" y="600" width="7" height="3" fill="#f08228"/>
<rect x="924" y="603" width="7" height="2" fill="#e6dc32"/>
<rect x="924" y="609" width="7" height="1" fill="#e6dc32"/>
<rect x="924" y="610" width="7" height="4" fill="#f08228"/>
<rect x="924" y="614" width="7" height="8" fill="#fa3c3c"/>
<rect x="924" y="622" width="7" height="2" fill="#f08228"/>
<rect x="924" y="624" width="7" height="2" fill="#e6dc32"/>
<rect x="924" y="627" width="7" height="4" fill="#e6dc32"/>
<rect x="924" y="631" width="7" height="3" fill="#fa3c3c"/>
<rect x="924" y="634" width="7" height="3" fill="#f08228"/>
<rect x="924" y="637" width="7" height="13" fill="#fa3c3c"/>
<rect x="924" y="651" width="7" height="26" fill="#a0522d"/>
<rect x="206" y="470" width="15" height="7" fill="#e6dc32"/>
<rect x="206" y="554" width="15" height="2" fill="#f08228"/>
<rect x="206" y="556" width="15" height="8" fill="#fa3c3c"/>
<rect x="206" y="568" width="15" height="8" fill="#e6dc32"/>
<rect x="206" y="576" width="15" height="2" fill="#f08228"/>
<rect x="221" y="496" width="14" height="12" fill="#e6dc32"/>
<rect x="221" y="510" width="14" height="3" fill="#e6dc32"/>
<rect x="221" y="513" width="14" height="11" fill="#fa3c3c"/>
<rect x="221" y="524" width="14" height="2" fill="#f08228"/>
<rect x="221" y="566" width="14" height="10" fill="#e6dc32"/>
<rect x="235" y="496" width="14" height="12" fill="#e6dc32"/>
<rect x="235" y="556" width="14" height="8" fill="#e6dc32"/>
<rect x="307" y="513" width="14" height="2" fill="#e6dc32"/>
<rect x="307" y="515" width="14" height="11" fill="#f08228"/>
<rect x="321" y="568" width="14" height="10" fill="#e6dc32"/>
<rect x="134" y="461" width="15" height="13" fill="#e6dc32"/>
<rect x="163" y="491" width="14" height="5" fill="#e6dc32"/>
<rect x="163" y="496" width="14" height="7" fill="#f08228"/>
<rect x="177" y="395" width="15" height="18" fill="#f08228"/>
<rect x="177" y="413" width="15" height="3" fill="#e6dc32"/>
<rect x="177" y="419" width="15" height="14" fill="#e6dc32"/>
<rect x="177" y="439" width="15" height="19" fill="#f08228"/>
<rect x="177" y="458" width="15" height="16" fill="#e6dc32"/>
<rect x="192" y="419" width="14" height="17" fill="#e6dc32"/>
<rect x="192" y="436" width="14" height="22" fill="#f08228"/>
<rect x="192" y="458" width="14" height="16" fill="#e6dc32"/>
<rect x="206" y="419" width="15" height="17" fill="#e6dc32"/>
<rect x="206" y="436" width="15" height="22" fill="#fa3c3c"/>
<rect x="206" y="461" width="15" height="16" fill="#e6dc32"/>
<rect x="221" y="395" width="14" height="21" fill="#f08228"/>
<rect x="221" y="416" width="14" height="3" fill="#e6dc32"/>
<rect x="221" y="439" width="14" height="17" fill="#e6dc32"/>
<rect x="221" y="496" width="14" height="7" fill="#e6dc32"/>
<rect x="235" y="496" width="14" height="7" fill="#e6dc32"/>
<rect x="464" y="259" width="15" height="1" fill="#e6dc32"/>
<rect x="479" y="94" width="14" height="22" fill="#e6dc32"/>
<rect x="479" y="192" width="14" height="27" fill="#e6dc32"/>
<rect x="479" y="254" width="14" height="6" fill="#e6dc32"/>
<rect x="493" y="116" width="15" height="33" fill="#e6dc32"/>
<rect x="493" y="254" width="15" height="6" fill="#f08228"/>
<rect x="407" y="371" width="14" height="23" fill="#fa3c3c"/>
<rect x="407" y="394" width="14" height="3" fill="#f08228"/>
<rect x="407" y="397" width="14" height="19" fill="#e6dc32"/>
<rect x="421" y="367" width="15" height="4" fill="#e6dc32"/>
<rect x="421" y="371" width="15" height="23" fill="#fa3c3c"/>
<rect x="421" y="394" width="15" height="3" fill="#e6dc32"/>
<rect x="436" y="374" width="14" height="20" fill="#e6dc32"/>
<rect x="436" y="394" width="14" height="22" fill="#fa3c3c"/>
<rect x="436" y="416" width="14" height="3" fill="#f08228"/>
<rect x="436" y="419" width="14" height="3" fill="#e6dc32"/>
<rect x="450" y="342" width="14" height="52" fill="#e6dc32"/>
<rect x="450" y="394" width="14" height="3" fill="#f08228"/>
<rect x="450" y="397" width="14" height="19" fill="#fa3c3c"/>
<rect x="450" y="416" width="14" height="3" fill="#f08228"/>
<rect x="464" y="260" width="15" height="21" fill="#e6dc32"/>
<rect x="464" y="342" width="15" height="4" fill="#f08228"/>
<rect x="464" y="346" width="15" height="21" fill="#fa3c3c"/>
<rect x="464" y="367" width="15" height="4" fill="#f08228"/>
<rect x="464" y="371" width="15" height="61" fill="#e6dc32"/>
<rect x="479" y="260" width="14" height="26" fill="#e6dc32"/>
<rect x="479" y="342" width="14" height="4" fill="#f08228"/>
<rect x="479" y="346" width="14" height="45" fill="#fa3c3c"/>
<rect x="479" y="391" width="14" height="3" fill="#f08228"/>
<rect x="479" y="422" width="14" height="10" fill="#e6dc32"/>
<rect x="493" y="260" width="15" height="26" fill="#f08228"/>
<rect x="493" y="286" width="15" height="33" fill="#e6dc32"/>
<rect x="493" y="342" width="15" height="52" fill="#f08228"/>
<rect x="508" y="286" width="14" height="4" fill="#f08228"/>
<rect x="508" y="290" width="14" height="56" fill="#fa3c3c"/>
<rect x="508" y="346" width="14" height="25" fill="#f08228"/>
<rect x="508" y="371" width="14" height="23" fill="#fa3c3c"/>
<rect x="508" y="394" width="14" height="22" fill="#f08228"/>
<rect x="508" y="416" width="14" height="3" fill="#e6dc32"/>
<rect x="307" y="513" width="14" height="2" fill="#e6dc32"/>
<rect x="307" y="515" width="14" height="11" fill="#f08228"/>
<rect x="321" y="568" width="14" height="10" fill="#e6dc32"/>
<rect x="436" y="420" width="14" height="2" fill="#e6dc32"/>
<rect x="464" y="420" width="15" height="16" fill="#e6dc32"/>
<rect x="479" y="422" width="14" height="17" fill="#e6dc32"/>
<rect x="479" y="531" width="14" height="2" fill="#e6dc32"/>
<rect x="479" y="533" width="14" height="8" fill="#f08228"/>
<rect x="479" y="541" width="14" height="3" fill="#e6dc32"/>
<rect x="493" y="531" width="15" height="13" fill="#f08228"/>
<rect x="508" y="531" width="14" height="13" fill="#f08228"/>
<rect x="522" y="94" width="14" height="22" fill="#e6dc32"/>
<rect x="522" y="156" width="14" height="24" fill="#f08228"/>
<rect x="522" y="180" width="14" height="6" fill="#e6dc32"/>
<rect x="536" y="94" width="15" height="29" fill="#f08228"/>
<rect x="536" y="123" width="15" height="26" fill="#fa3c3c"/>
<rect x="536" y="149" width="15" height="7" fill="#f08228"/>
<rect x="551" y="94" width="14" height="29" fill="#f08228"/>
<rect x="551" y="123" width="14" height="26" fill="#fa3c3c"/>
<rect x="551" y="149" width="14" height="7" fill="#f08228"/>
<rect x="551" y="162" width="14" height="18" fill="#e6dc32"/>
<rect x="551" y="259" width="14" height="1" fill="#e6dc32"/>
<rect x="565" y="116" width="14" height="7" fill="#f08228"/>
<rect x="565" y="123" width="14" height="26" fill="#fa3c3c"/>
<rect x="565" y="149" width="14" height="7" fill="#f08228"/>
<rect x="565" y="162" width="14" height="24" fill="#e6dc32"/>
<rect x="579" y="94" width="15" height="55" fill="#f08228"/>
<rect x="579" y="162" width="15" height="24" fill="#e6dc32"/>
<rect x="579" y="259" width="15" height="1" fill="#e6dc32"/>
<rect x="594" y="94" width="14" height="22" fill="#fa3c3c"/>
<rect x="594" y="116" width="14" height="7" fill="#f08228"/>
<rect x="594" y="123" width="14" height="26" fill="#e6dc32"/>
<rect x="594" y="192" width="14" height="32" fill="#e6dc32"/>
<rect x="608" y="94" width="14" height="22" fill="#fa3c3c"/>
<rect x="608" y="116" width="14" height="7" fill="#f08228"/>
<rect x="608" y="192" width="14" height="27" fill="#e6dc32"/>
<rect x="608" y="249" width="14" height="11" fill="#e6dc32"/>
<rect x="622" y="94" width="15" height="22" fill="#f08228"/>
<rect x="622" y="224" width="15" height="30" fill="#e6dc32"/>
<rect x="637" y="94" width="14" height="22" fill="#f08228"/>
<rect x="637" y="259" width="14" height="1" fill="#e6dc32"/>
<rect x="651" y="244" width="14" height="16" fill="#e6dc32"/>
<rect x="665" y="254" width="15" height="5" fill="#f08228"/>
<rect x="665" y="259" width="15" height="1" fill="#fa3c3c"/>
<rect x="680" y="254" width="14" height="6" fill="#e6dc32"/>
<rect x="694" y="224" width="14" height="25" fill="#e6dc32"/>
<rect x="708" y="219" width="15" height="35" fill="#e6dc32"/>
<rect x="723" y="219" width="14" height="35" fill="#e6dc32"/>
<rect x="737" y="219" width="14" height="10" fill="#e6dc32"/>
<rect x="737" y="229" width="14" height="31" fill="#f08228"/>
<rect x="522" y="315" width="14" height="4" fill="#e6dc32"/>
<rect x="522" y="319" width="14" height="44" fill="#fa3c3c"/>
<rect x="536" y="342" width="15" height="21" fill="#fa3c3c"/>
<rect x="551" y="259" width="14" height="22" fill="#e6dc32"/>
<rect x="551" y="342" width="14" height="4" fill="#e6dc32"/>
<rect x="551" y="346" width="14" height="17" fill="#fa3c3c"/>
<rect x="565" y="315" width="14" height="4" fill="#e6dc32"/>
<rect x="565" y="319" width="14" height="19" fill="#fa3c3c"/>
<rect x="565" y="338" width="14" height="4" fill="#f08228"/>
<rect x="579" y="259" width="15" height="79" fill="#e6dc32"/>
<rect x="594" y="286" width="14" height="4" fill="#e6dc32"/>
<rect x="594" y="290" width="14" height="21" fill="#f08228"/>
<rect x="594" y="311" width="14" height="4" fill="#e6dc32"/>
<rect x="608" y="255" width="14" height="31" fill="#e6dc32"/>
<rect x="608" y="286" width="14" height="4" fill="#f08228"/>
<rect x="608" y="290" width="14" height="21" fill="#fa3c3c"/>
<rect x="608" y="311" width="14" height="4" fill="#f08228"/>
<rect x="608" y="346" width="14" height="17" fill="#f08228"/>
<rect x="622" y="307" width="15" height="8" fill="#e6dc32"/>
<rect x="622" y="315" width="15" height="27" fill="#f08228"/>
<rect x="637" y="259" width="14" height="27" fill="#e6dc32"/>
<rect x="637" y="286" width="14" height="13" fill="#f08228"/>
<rect x="637" y="299" width="14" height="12" fill="#fa3c3c"/>
<rect x="637" y="311" width="14" height="31" fill="#f08228"/>
<rect x="651" y="255" width="14" height="26" fill="#e6dc32"/>
<rect x="651" y="281" width="14" height="5" fill="#f08228"/>
<rect x="651" y="286" width="14" height="29" fill="#fa3c3c"/>
<rect x="651" y="315" width="14" height="4" fill="#f08228"/>
<rect x="651" y="319" width="14" height="23" fill="#e6dc32"/>
<rect x="665" y="254" width="15" height="5" fill="#f08228"/>
<rect x="665" y="259" width="15" height="56" fill="#fa3c3c"/>
<rect x="665" y="315" width="15" height="8" fill="#f08228"/>
<rect x="680" y="254" width="14" height="27" fill="#e6dc32"/>
<rect x="680" y="281" width="14" height="5" fill="#f08228"/>
<rect x="680" y="286" width="14" height="29" fill="#fa3c3c"/>
<rect x="680" y="315" width="14" height="4" fill="#f08228"/>
<rect x="680" y="319" width="14" height="4" fill="#e6dc32"/>
<rect x="694" y="224" width="14" height="25" fill="#e6dc32"/>
<rect x="694" y="286" width="14" height="29" fill="#f08228"/>
<rect x="694" y="315" width="14" height="8" fill="#fa3c3c"/>
<rect x="708" y="219" width="15" height="35" fill="#e6dc32"/>
<rect x="708" y="281" width="15" height="5" fill="#e6dc32"/>
<rect x="708" y="286" width="15" height="4" fill="#f08228"/>
<rect x="708" y="290" width="15" height="21" fill="#fa3c3c"/>
<rect x="708" y="311" width="15" height="8" fill="#f08228"/>
<rect x="708" y="319" width="15" height="4" fill="#e6dc32"/>
<rect x="723" y="219" width="14" height="35" fill="#e6dc32"/>
<rect x="723" y="281" width="14" height="5" fill="#e6dc32"/>
<rect x="723" y="286" width="14" height="4" fill="#f08228"/>
<rect x="723" y="290" width="14" height="25" fill="#fa3c3c"/>
<rect x="723" y="315" width="14" height="8" fill="#f08228"/>
<rect x="737" y="219" width="14" height="10" fill="#e6dc32"/>
<rect x="737" y="229" width="14" height="61" fill="#f08228"/>
<rect x="737" y="290" width="14" height="21" fill="#fa3c3c"/>
<rect x="737" y="311" width="14" height="4" fill="#f08228"/>
<rect x="737" y="315" width="14" height="4" fill="#e6dc32"/>
<rect x="751" y="219" width="15" height="5" fill="#e6dc32"/>
<rect x="751" y="224" width="15" height="30" fill="#f08228"/>
<rect x="751" y="254" width="15" height="27" fill="#fa3c3c"/>
<rect x="751" y="281" width="15" height="5" fill="#f08228"/>
<rect x="751" y="286" width="15" height="4" fill="#e6dc32"/>
<rect x="766" y="249" width="14" height="37" fill="#e6dc32"/>
<rect x="766" y="319" width="14" height="4" fill="#e6dc32"/>
<rect x="780" y="224" width="15" height="30" fill="#e6dc32"/>
<rect x="780" y="254" width="15" height="61" fill="#f08228"/>
<rect x="780" y="315" width="15" height="4" fill="#e6dc32"/>
<rect x="795" y="224" width="14" height="87" fill="#f08228"/>
<rect x="795" y="311" width="14" height="4" fill="#e6dc32"/>
<rect x="795" y="319" width="14" height="4" fill="#f08228"/>
<rect x="665" y="315" width="15" height="27" fill="#f08228"/>
<rect x="665" y="342" width="15" height="4" fill="#e6dc32"/>
<rect x="665" y="419" width="15" height="4" fill="#e6dc32"/>
<rect x="680" y="315" width="14" height="4" fill="#f08228"/>
<rect x="680" y="319" width="14" height="23" fill="#e6dc32"/>
<rect x="694" y="315" width="14" height="27" fill="#fa3c3c"/>
<rect x="694" y="342" width="14" height="4" fill="#e6dc32"/>
<rect x="708" y="315" width="15" height="4" fill="#f08228"/>
<rect x="708" y="319" width="15" height="19" fill="#e6dc32"/>
<rect x="723" y="315" width="14" height="27" fill="#f08228"/>
<rect x="737" y="315" width="14" height="4" fill="#e6dc32"/>
<rect x="751" y="342" width="15" height="4" fill="#e6dc32"/>
<rect x="751" y="346" width="15" height="21" fill="#f08228"/>
<rect x="751" y="419" width="15" height="4" fill="#e6dc32"/>
<rect x="766" y="319" width="14" height="48" fill="#e6dc32"/>
<rect x="780" y="315" width="15" height="4" fill="#e6dc32"/>
<rect x="780" y="419" width="15" height="4" fill="#e6dc32"/>
<rect x="795" y="319" width="14" height="19" fill="#f08228"/>
<rect x="795" y="416" width="14" height="3" fill="#e6dc32"/>
<rect x="795" y="419" width="14" height="4" fill="#f08228"/>
<rect x="522" y="340" width="14" height="76" fill="#fa3c3c"/>
<rect x="522" y="416" width="14" height="3" fill="#f08228"/>
<rect x="536" y="342" width="15" height="77" fill="#fa3c3c"/>
<rect x="536" y="419" width="15" height="3" fill="#f08228"/>
<rect x="536" y="422" width="15" height="8" fill="#e6dc32"/>
<rect x="536" y="430" width="15" height="6" fill="#f08228"/>
<rect x="536" y="436" width="15" height="3" fill="#e6dc32"/>
<rect x="551" y="342" width="14" height="4" fill="#e6dc32"/>
<rect x="551" y="346" width="14" height="90" fill="#fa3c3c"/>
<rect x="551" y="436" width="14" height="6" fill="#f08228"/>
<rect x="551" y="442" width="14" height="6" fill="#e6dc32"/>
<rect x="565" y="340" width="14" height="2" fill="#f08228"/>
<rect x="565" y="367" width="14" height="4" fill="#e6dc32"/>
<rect x="565" y="371" width="14" height="48" fill="#fa3c3c"/>
<rect x="565" y="419" width="14" height="20" fill="#f08228"/>
<rect x="565" y="439" width="14" height="3" fill="#e6dc32"/>
<rect x="579" y="371" width="15" height="3" fill="#f08228"/>
<rect x="579" y="374" width="15" height="42" fill="#fa3c3c"/>
<rect x="579" y="416" width="15" height="23" fill="#f08228"/>
<rect x="579" y="439" width="15" height="3" fill="#e6dc32"/>
<rect x="594" y="367" width="14" height="4" fill="#e6dc32"/>
<rect x="594" y="371" width="14" height="26" fill="#f08228"/>
<rect x="594" y="397" width="14" height="19" fill="#fa3c3c"/>
<rect x="594" y="416" width="14" height="3" fill="#f08228"/>
<rect x="594" y="419" width="14" height="17" fill="#e6dc32"/>
<rect x="608" y="346" width="14" height="21" fill="#f08228"/>
<rect x="608" y="394" width="14" height="25" fill="#f08228"/>
<rect x="608" y="419" width="14" height="20" fill="#e6dc32"/>
<rect x="622" y="340" width="15" height="2" fill="#f08228"/>
<rect x="622" y="416" width="15" height="3" fill="#e6dc32"/>
<rect x="622" y="419" width="15" height="3" fill="#f08228"/>
<rect x="622" y="422" width="15" height="14" fill="#fa3c3c"/>
<rect x="622" y="436" width="15" height="3" fill="#f08228"/>
<rect x="637" y="340" width="14" height="2" fill="#f08228"/>
<rect x="637" y="419" width="14" height="6" fill="#e6dc32"/>
<rect x="637" y="425" width="14" height="11" fill="#f08228"/>
<rect x="637" y="436" width="14" height="3" fill="#e6dc32"/>
<rect x="651" y="340" width="14" height="2" fill="#e6dc32"/>
<rect x="651" y="419" width="14" height="20" fill="#e6dc32"/>
<rect x="522" y="531" width="14" height="12" fill="#e6dc32"/>
<rect x="551" y="442" width="14" height="16" fill="#e6dc32"/>
<rect x="565" y="458" width="14" height="21" fill="#e6dc32"/>
<rect x="565" y="531" width="14" height="9" fill="#e6dc32"/>
<rect x="579" y="479" width="15" height="20" fill="#e6dc32"/>
<rect x="579" y="531" width="15" height="12" fill="#e6dc32"/>
<rect x="594" y="479" width="14" height="17" fill="#f08228"/>
<rect x="594" y="496" width="14" height="32" fill="#e6dc32"/>
<rect x="608" y="494" width="14" height="32" fill="#e6dc32"/>
<rect x="622" y="496" width="15" height="17" fill="#e6dc32"/>
<rect x="637" y="515" width="14" height="11" fill="#e6dc32"/>
<rect x="651" y="515" width="14" height="11" fill="#e6dc32"/>
<rect x="522" y="531" width="14" height="15" fill="#e6dc32"/>
<rect x="536" y="546" width="15" height="10" fill="#e6dc32"/>
<rect x="579" y="531" width="15" height="13" fill="#e6dc32"/>
<rect x="622" y="558" width="15" height="20" fill="#e6dc32"/>
<rect x="651" y="570" width="14" height="4" fill="#e6dc32"/>
<rect x="665" y="558" width="15" height="8" fill="#e6dc32"/>
<rect x="665" y="419" width="15" height="17" fill="#e6dc32"/>
<rect x="680" y="499" width="14" height="9" fill="#e6dc32"/>
<rect x="694" y="477" width="14" height="5" fill="#e6dc32"/>
<rect x="694" y="482" width="14" height="12" fill="#f08228"/>
<rect x="694" y="494" width="14" height="14" fill="#e6dc32"/>
<rect x="708" y="439" width="15" height="3" fill="#f08228"/>
<rect x="708" y="442" width="15" height="16" fill="#fa3c3c"/>
<rect x="708" y="458" width="15" height="3" fill="#f08228"/>
<rect x="708" y="461" width="15" height="18" fill="#e6dc32"/>
<rect x="723" y="458" width="14" height="3" fill="#e6dc32"/>
<rect x="723" y="461" width="14" height="16" fill="#f08228"/>
<rect x="723" y="477" width="14" height="2" fill="#e6dc32"/>
<rect x="737" y="477" width="14" height="2" fill="#e6dc32"/>
<rect x="737" y="479" width="14" height="17" fill="#f08228"/>
<rect x="751" y="419" width="15" height="17" fill="#e6dc32"/>
<rect x="751" y="439" width="15" height="3" fill="#e6dc32"/>
<rect x="751" y="442" width="15" height="14" fill="#fa3c3c"/>
<rect x="751" y="456" width="15" height="18" fill="#f08228"/>
<rect x="751" y="474" width="15" height="3" fill="#e6dc32"/>
<rect x="751" y="494" width="15" height="2" fill="#e6dc32"/>
<rect x="751" y="496" width="15" height="12" fill="#fa3c3c"/>
<rect x="766" y="439" width="14" height="30" fill="#e6dc32"/>
<rect x="766" y="469" width="14" height="5" fill="#f08228"/>
<rect x="766" y="474" width="14" height="20" fill="#e6dc32"/>
<rect x="766" y="494" width="14" height="14" fill="#f08228"/>
<rect x="780" y="419" width="15" height="20" fill="#e6dc32"/>
<rect x="780" y="439" width="15" height="17" fill="#f08228"/>
<rect x="780" y="456" width="15" height="23" fill="#e6dc32"/>
<rect x="780" y="479" width="15" height="15" fill="#f08228"/>
<rect x="780" y="494" width="15" height="14" fill="#e6dc32"/>
<rect x="795" y="416" width="14" height="3" fill="#e6dc32"/>
<rect x="795" y="419" width="14" height="39" fill="#f08228"/>
<rect x="795" y="477" width="14" height="17" fill="#e6dc32"/>
<rect x="680" y="499" width="14" height="14" fill="#e6dc32"/>
<rect x="694" y="494" width="14" height="16" fill="#e6dc32"/>
<rect x="708" y="513" width="15" height="15" fill="#e6dc32"/>
<rect x="723" y="513" width="14" height="15" fill="#e6dc32"/>
<rect x="737" y="490" width="14" height="6" fill="#f08228"/>
<rect x="737" y="513" width="14" height="15" fill="#e6dc32"/>
<rect x="751" y="494" width="15" height="2" fill="#e6dc32"/>
<rect x="751" y="496" width="15" height="14" fill="#fa3c3c"/>
<rect x="751" y="510" width="15" height="3" fill="#f08228"/>
<rect x="766" y="494" width="14" height="16" fill="#f08228"/>
<rect x="780" y="494" width="15" height="16" fill="#e6dc32"/>
<rect x="795" y="510" width="14" height="3" fill="#e6dc32"/>
<rect x="795" y="513" width="14" height="11" fill="#f08228"/>
<rect x="795" y="524" width="14" height="2" fill="#e6dc32"/>
<rect x="795" y="130" width="14" height="19" fill="#e6dc32"/>
<rect x="809" y="156" width="14" height="30" fill="#e6dc32"/>
<rect x="838" y="123" width="14" height="26" fill="#f08228"/>
<rect x="866" y="162" width="15" height="18" fill="#e6dc32"/>
<rect x="866" y="192" width="15" height="4" fill="#f08228"/>
<rect x="881" y="94" width="14" height="22" fill="#fa3c3c"/>
<rect x="881" y="123" width="14" height="7" fill="#e6dc32"/>
<rect x="881" y="130" width="14" height="19" fill="#f08228"/>
<rect x="881" y="186" width="14" height="6" fill="#f08228"/>
<rect x="881" y="192" width="14" height="4" fill="#fa3c3c"/>
<rect x="895" y="94" width="14" height="22" fill="#fa3c3c"/>
<rect x="895" y="123" width="14" height="26" fill="#fa3c3c"/>
<rect x="895" y="149" width="14" height="7" fill="#e6dc32"/>
<rect x="895" y="186" width="14" height="6" fill="#f08228"/>
<rect x="895" y="192" width="14" height="4" fill="#fa3c3c"/>
<rect x="909" y="94" width="15" height="22" fill="#f08228"/>
<rect x="909" y="123" width="15" height="7" fill="#e6dc32"/>
<rect x="909" y="130" width="15" height="19" fill="#f08228"/>
<rect x="924" y="94" width="7" height="15" fill="#e6dc32"/>
<rect x="924" y="109" width="7" height="7" fill="#f08228"/>
<rect x="924" y="130" width="7" height="19" fill="#e6dc32"/>
<rect x="924" y="192" width="7" height="4" fill="#e6dc32"/>
<rect x="795" y="224" width="14" height="74" fill="#f08228"/>
<rect x="809" y="219" width="14" height="35" fill="#e6dc32"/>
<rect x="809" y="254" width="14" height="32" fill="#f08228"/>
<rect x="809" y="286" width="14" height="4" fill="#e6dc32"/>
<rect x="823" y="254" width="15" height="5" fill="#e6dc32"/>
<rect x="823" y="259" width="15" height="22" fill="#f08228"/>
<rect x="823" y="281" width="15" height="9" fill="#e6dc32"/>
<rect x="838" y="277" width="14" height="4" fill="#e6dc32"/>
<rect x="852" y="224" width="14" height="25" fill="#f08228"/>
<rect x="852" y="249" width="14" height="5" fill="#e6dc32"/>
<rect x="866" y="192" width="15" height="57" fill="#f08228"/>
<rect x="866" y="249" width="15" height="5" fill="#e6dc32"/>
<rect x="881" y="190" width="14" height="2" fill="#f08228"/>
<rect x="881" y="192" width="14" height="27" fill="#fa3c3c"/>
<rect x="881" y="224" width="14" height="25" fill="#fa3c3c"/>
<rect x="881" y="249" width="14" height="5" fill="#f08228"/>
<rect x="881" y="281" width="14" height="5" fill="#e6dc32"/>
<rect x="881" y="286" width="14" height="12" fill="#fa3c3c"/>
<rect x="895" y="190" width="14" height="2" fill="#f08228"/>
<rect x="895" y="192" width="14" height="27" fill="#fa3c3c"/>
<rect x="895" y="224" width="14" height="25" fill="#fa3c3c"/>
<rect x="895" y="249" width="14" height="5" fill="#f08228"/>
<rect x="895" y="281" width="14" height="9" fill="#e6dc32"/>
<rect x="895" y="290" width="14" height="8" fill="#f08228"/>
<rect x="909" y="224" width="15" height="25" fill="#e6dc32"/>
<rect x="924" y="192" width="7" height="27" fill="#e6dc32"/>
<rect x="924" y="224" width="7" height="25" fill="#f08228"/>
<rect x="924" y="249" width="7" height="5" fill="#e6dc32"/>
<rect x="924" y="286" width="7" height="12" fill="#e6dc32"/>
<rect x="795" y="290" width="14" height="21" fill="#f08228"/>
<rect x="795" y="311" width="14" height="4" fill="#e6dc32"/>
<rect x="795" y="319" width="14" height="19" fill="#f08228"/>
<rect x="809" y="394" width="14" height="3" fill="#e6dc32"/>
<rect x="809" y="397" width="14" height="1" fill="#f08228"/>
<rect x="823" y="315" width="15" height="4" fill="#e6dc32"/>
<rect x="823" y="319" width="15" height="19" fill="#f08228"/>
<rect x="823" y="338" width="15" height="4" fill="#e6dc32"/>
<rect x="823" y="397" width="15" height="1" fill="#e6dc32"/>
<rect x="852" y="346" width="14" height="18" fill="#fa3c3c"/>
<rect x="852" y="364" width="14" height="3" fill="#f08228"/>
<rect x="881" y="290" width="14" height="29" fill="#fa3c3c"/>
<rect x="881" y="319" width="14" height="19" fill="#f08228"/>
<rect x="881" y="338" width="14" height="29" fill="#e6dc32"/>
<rect x="895" y="290" width="14" height="52" fill="#f08228"/>
<rect x="895" y="342" width="14" height="25" fill="#e6dc32"/>
<rect x="909" y="311" width="15" height="4" fill="#e6dc32"/>
<rect x="909" y="315" width="15" height="27" fill="#fa3c3c"/>
<rect x="909" y="342" width="15" height="4" fill="#f08228"/>
<rect x="909" y="394" width="15" height="4" fill="#e6dc32"/>
<rect x="924" y="290" width="7" height="77" fill="#e6dc32"/>
<rect x="795" y="416" width="14" height="3" fill="#e6dc32"/>
<rect x="795" y="419" width="14" height="39" fill="#f08228"/>
<rect x="795" y="477" width="14" height="17" fill="#e6dc32"/>
<rect x="809" y="394" width="14" height="3" fill="#e6dc32"/>
<rect x="809" y="397" width="14" height="22" fill="#f08228"/>
<rect x="809" y="419" width="14" height="17" fill="#fa3c3c"/>
<rect x="809" y="436" width="14" height="3" fill="#f08228"/>
<rect x="809" y="439" width="14" height="17" fill="#e6dc32"/>
<rect x="809" y="461" width="14" height="13" fill="#e6dc32"/>
<rect x="809" y="477" width="14" height="2" fill="#e6dc32"/>
<rect x="809" y="479" width="14" height="15" fill="#f08228"/>
<rect x="809" y="494" width="14" height="2" fill="#e6dc32"/>
<rect x="823" y="397" width="15" height="19" fill="#e6dc32"/>
<rect x="823" y="416" width="15" height="20" fill="#f08228"/>
<rect x="823" y="436" width="15" height="20" fill="#e6dc32"/>
<rect x="838" y="416" width="14" height="20" fill="#e6dc32"/>
<rect x="838" y="436" width="14" height="38" fill="#f08228"/>
<rect x="852" y="439" width="14" height="35" fill="#f08228"/>
<rect x="852" y="474" width="14" height="17" fill="#fa3c3c"/>
<rect x="852" y="491" width="14" height="3" fill="#e6dc32"/>
<rect x="866" y="439" width="15" height="17" fill="#f08228"/>
<rect x="866" y="456" width="15" height="2" fill="#e6dc32"/>
<rect x="895" y="458" width="14" height="19" fill="#f08228"/>
<rect x="895" y="477" width="14" height="14" fill="#e6dc32"/>
<rect x="909" y="394" width="15" height="22" fill="#e6dc32"/>
<rect x="909" y="439" width="15" height="17" fill="#e6dc32"/>
<rect x="909" y="477" width="15" height="2" fill="#e6dc32"/>
<rect x="909" y="479" width="15" height="12" fill="#f08228"/>
<rect x="909" y="491" width="15" height="3" fill="#e6dc32"/>
<rect x="924" y="416" width="7" height="20" fill="#e6dc32"/>
<rect x="924" y="458" width="7" height="16" fill="#f08228"/>
<rect x="924" y="474" width="7" height="24" fill="#e6dc32"/>
<rect x="838" y="528" width="14" height="11" fill="#e6dc32"/>
<rect x="852" y="554" width="14" height="20" fill="#e6dc32"/>
<rect x="866" y="528" width="15" height="11" fill="#e6dc32"/>
<rect x="866" y="552" width="15" height="2" fill="#e6dc32"/>
<rect x="866" y="554" width="15" height="12" fill="#fa3c3c"/>
<rect x="866" y="566" width="15" height="8" fill="#f08228"/>
<rect x="881" y="554" width="14" height="10" fill="#f08228"/>
<rect x="881" y="564" width="14" height="2" fill="#e6dc32"/>
<rect x="895" y="556" width="14" height="6" fill="#fa3c3c"/>
<rect x="909" y="510" width="15" height="16" fill="#e6dc32"/>
<rect x="909" y="526" width="15" height="13" fill="#f08228"/>
<rect x="909" y="539" width="15" height="2" fill="#e6dc32"/>
<rect x="909" y="566" width="15" height="8" fill="#f08228"/>
<rect x="924" y="485" width="7" height="25" fill="#e6dc32"/>
<rect x="924" y="541" width="7" height="11" fill="#e6dc32"/>
<rect x="924" y="552" width="7" height="2" fill="#f08228"/>
<rect x="924" y="554" width="7" height="20" fill="#fa3c3c"/>
</g>
<g stroke="#adadad" stroke-width="1.3" stroke-dasharray="2 6.374" fill="none">
<line x1="77.8" x2="929" y1="233.8" y2="233.8"/>
<line x1="77.8" x2="929" y1="335.7" y2="335.7"/>
<line x1="77.8" x2="929" y1="414.8" y2="414.8"/>
<line x1="77.8" x2="929" y1="479.3" y2="479.3"/>
<line x1="77.8" x2="929" y1="533.9" y2="533.9"/>
<line x1="77.8" x2="929" y1="581.2" y2="581.2"/>
<line x1="77.8" x2="929" y1="622.9" y2="622.9"/>
<line x1="77.8" x2="929" y1="660.3" y2="660.3" stroke="#b9b0aa"/>
</g>
<rect x="70" y="90.2" width="861" height="587.2" fill="none" stroke="#000" stroke-width="2"/>
<g stroke="#333" stroke-width="1.4">
<line x1="60" x2="70" y1="90.2" y2="90.2"/>
<line x1="60" x2="70" y1="169.2" y2="169.2"/>
<line x1="60" x2="70" y1="233.8" y2="233.8"/>
<line x1="60" x2="70" y1="288.4" y2="288.4"/>
<line x1="60" x2="70" y1="335.7" y2="335.7"/>
<line x1="60" x2="70" y1="377.4" y2="377.4"/>
<line x1="60" x2="70" y1="414.8" y2="414.8"/>
<line x1="60" x2="70" y1="448.5" y2="448.5"/>
<line x1="60" x2="70" y1="479.3" y2="479.3"/>
<line x1="60" x2="70" y1="507.7" y2="507.7"/>
<line x1="60" x2="70" y1="533.9" y2="533.9"/>
<line x1="60" x2="70" y1="558.4" y2="558.4"/>
<line x1="60" x2="70" y1="581.2" y2="581.2"/>
<line x1="60" x2="70" y1="602.7" y2="602.7"/>
<line x1="60" x2="70" y1="622.9" y2="622.9"/>
<line x1="60" x2="70" y1="642.1" y2="642.1"/>
<line x1="60" x2="70" y1="660.3" y2="660.3"/>
</g>
<g font-size="22" fill="#333" stroke="#fff" stroke-width="0.7" text-anchor="end">
<text x="59.9" y="97.7" textLength="41.1" lengthAdjust="spacingAndGlyphs">200</text>
<text x="59.9" y="176.7" textLength="41.1" lengthAdjust="spacingAndGlyphs">250</text>
<text x="59.9" y="241.3" textLength="41.1" lengthAdjust="spacingAndGlyphs">300</text>
<text x="59.9" y="295.9" textLength="41.1" lengthAdjust="spacingAndGlyphs">350</text>
<text x="59.9" y="343.2" textLength="41.1" lengthAdjust="spacingAndGlyphs">400</text>
<text x="59.9" y="384.9" textLength="41.1" lengthAdjust="spacingAndGlyphs">450</text>
<text x="59.9" y="422.3" textLength="41.1" lengthAdjust="spacingAndGlyphs">500</text>
<text x="59.9" y="456.0" textLength="41.1" lengthAdjust="spacingAndGlyphs">550</text>
<text x="59.9" y="486.8" textLength="41.1" lengthAdjust="spacingAndGlyphs">600</text>
<text x="59.9" y="515.2" textLength="41.1" lengthAdjust="spacingAndGlyphs">650</text>
<text x="59.9" y="541.4" textLength="41.1" lengthAdjust="spacingAndGlyphs">700</text>
<text x="59.9" y="565.9" textLength="41.1" lengthAdjust="spacingAndGlyphs">750</text>
<text x="59.9" y="588.7" textLength="41.1" lengthAdjust="spacingAndGlyphs">800</text>
<text x="59.9" y="610.2" textLength="41.1" lengthAdjust="spacingAndGlyphs">850</text>
<text x="59.9" y="630.4" textLength="41.1" lengthAdjust="spacingAndGlyphs">900</text>
<text x="59.9" y="649.6" textLength="41.1" lengthAdjust="spacingAndGlyphs">950</text>
<text x="59.9" y="667.8" textLength="52.8" lengthAdjust="spacingAndGlyphs">1000</text>
</g>
<g stroke="#222" stroke-width="1.3">
<line x1="155.8" x2="155.8" y1="677" y2="682.5"/>
<line x1="328.0" x2="328.0" y1="677" y2="682.5"/>
<line x1="500.2" x2="500.2" y1="677" y2="682.5"/>
<line x1="672.4" x2="672.4" y1="677" y2="682.5"/>
<line x1="844.6" x2="844.6" y1="677" y2="682.5"/>
</g>
<g font-size="17.6" fill="#111" stroke="#fff" stroke-width="0.3" text-anchor="middle">
<text x="155.8" y="700.9" textLength="33.5" lengthAdjust="spacing">00Z</text>
<text x="155.8" y="719.7" textLength="52" lengthAdjust="spacing">14JAN</text>
<text x="155.8" y="738.5" textLength="45" lengthAdjust="spacing">2026</text>
<text x="328.0" y="700.9" textLength="33.5" lengthAdjust="spacing">12Z</text>
<text x="500.2" y="700.9" textLength="33.5" lengthAdjust="spacing">00Z</text>
<text x="500.2" y="719.7" textLength="52" lengthAdjust="spacing">15JAN</text>
<text x="672.4" y="700.9" textLength="33.5" lengthAdjust="spacing">12Z</text>
<text x="844.6" y="700.9" textLength="33.5" lengthAdjust="spacing">00Z</text>
<text x="844.6" y="719.7" textLength="52" lengthAdjust="spacing">16JAN</text>
</g>
<text y="75.5" font-size="27.2" fill="#111" stroke="#fff" stroke-width="0.4"><tspan x="172.3" textLength="162.5" lengthAdjust="spacing">2026011318</tspan> <tspan x="350.0" textLength="104.4" lengthAdjust="spacingAndGlyphs">NAM3KM</tspan> <tspan x="469.6" textLength="109.6" lengthAdjust="spacing">Forecast</tspan> <tspan x="593.2" textLength="155.1" lengthAdjust="spacing">Richardson#</tspan> <tspan x="765.2" textLength="63.4" lengthAdjust="spacingAndGlyphs">KTOP</tspan></text>
<text y="758.7" font-size="25.6" fill="#000" stroke="#000" stroke-width="0.45"><tspan x="357.8" textLength="127.4" lengthAdjust="spacing">Forecast</tspan> <tspan x="501.9" textLength="65.1" lengthAdjust="spacing">Time</tspan> <tspan x="584.6" textLength="79.9" lengthAdjust="spacing">(UTC)</tspan></text>
<text transform="translate(826 761.1) scale(1.14 1)" x="0" y="0" font-size="16" fill="#fa3c3c" stroke="#fff" stroke-width="0.35" textLength="166.2" lengthAdjust="spacing">coolwx.com/modelts</text>
<g stroke="#000" stroke-width="1.6" stroke-linejoin="miter">
<polygon points="945.1,338.5 954.2,293.5 963.2,338.5" fill="#fff"/>
<rect x="945.1" y="338.5" width="18.1" height="45.5" fill="#e6dc32"/>
<rect x="945.1" y="384" width="18.1" height="45.2" fill="#f08228"/>
<polygon points="945.1,429.2 954.2,474.5 963.2,429.2" fill="#fa3c3c"/>
</g>
<g font-size="16.8" fill="#111">
<text x="968.6" y="344.9">1</text>
<text x="968.6" y="390" textLength="27.3" lengthAdjust="spacing">0.5</text>
<text x="968.6" y="435.2" textLength="38.5" lengthAdjust="spacing">0.25</text>
</g>
</svg></body></html>
